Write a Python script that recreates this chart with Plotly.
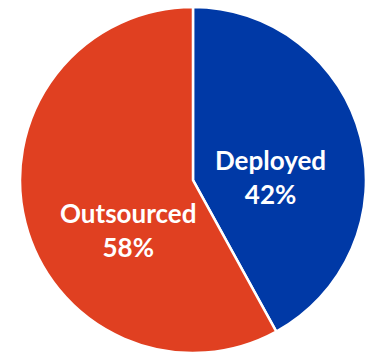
import plotly.graph_objects as go

labels = ["Deployed", "Outsourced"]
values = [42, 58]
colors = ["#0039A6", "#E04021"]

# label anchor positions (paper fractions)
label_x = [0.738, 0.350]
label_y = [0.502, 0.352]

fig = go.Figure(go.Pie(
    labels=labels,
    values=values,
    sort=False,
    direction="clockwise",
    rotation=0,
    marker=dict(colors=colors, line=dict(color="white", width=2.5)),
    textinfo="none",
    hoverinfo="skip",
    domain=dict(x=[0.0546, 1.0], y=[0.0056, 0.980]),
    showlegend=False,
))

for lab, val, lx, ly in zip(labels, values, label_x, label_y):
    fig.add_annotation(
        x=lx, y=ly, xref="paper", yref="paper",
        text=f"{lab}<br>{val}%",
        showarrow=False,
        xanchor="center", yanchor="middle",
        font=dict(family="Lato", size=26, color="white", weight="bold"),
    )

fig.update_layout(
    width=366, height=355,
    margin=dict(l=0, r=0, t=0, b=0),
    paper_bgcolor="white",
)
fig.write_html("out.html")
